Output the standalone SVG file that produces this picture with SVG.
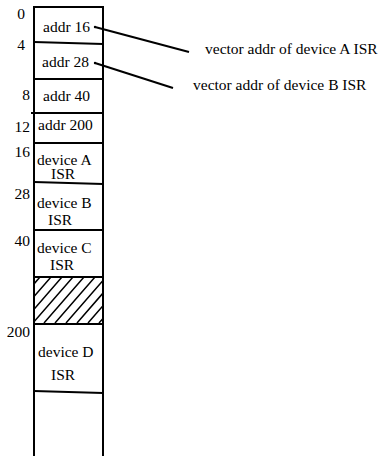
<svg xmlns="http://www.w3.org/2000/svg" width="385" height="456" viewBox="0 0 385 456">
<style>
text{font-family:"Liberation Serif","DejaVu Serif","Noto Serif",serif;font-size:15.5px;fill:#000}
.ln{stroke:#000;stroke-width:2;fill:none}
.h{stroke:#000;stroke-width:1.5;fill:none}
.end{text-anchor:end}
</style>
<defs>
<clipPath id="hc"><rect x="35" y="278" width="67" height="45"/></clipPath>
</defs>
<rect width="385" height="456" fill="#fff"/>
<g id="column">
<path class="ln" d="M34,456 V7 H103 V456"/>
</g>
<g id="slot0"><text class="end" x="25" y="19">0</text><text x="43" y="32">addr 16</text><path class="ln" d="M34,42 L103,44"/></g>
<g id="slot4"><text class="end" x="25" y="50">4</text><text x="42" y="67">addr 28</text><path class="ln" d="M34,79 H103"/></g>
<g id="slot8"><text class="end" x="30" y="100">8</text><text x="43" y="101">addr 40</text><path class="ln" d="M31,113 H103"/></g>
<g id="slot12"><text class="end" x="30" y="132">12</text><text x="38" y="130">addr 200</text><path class="ln" d="M34,143 H103"/></g>
<g id="isrA"><text class="end" x="30" y="157">16</text><text x="37" y="165">device A</text><text x="51" y="179">ISR</text><path class="ln" d="M34,182 L103,184"/></g>
<g id="isrB"><text class="end" x="30" y="199">28</text><text x="37" y="208">device B</text><text x="48" y="225">ISR</text><path class="ln" d="M34,230 H103"/></g>
<g id="isrC"><text class="end" x="30" y="246">40</text><text x="37" y="253">device C</text><text x="50" y="270">ISR</text><path class="ln" d="M34,277 H103"/></g>
<g id="unused">
<g clip-path="url(#hc)">
<path class="h" d="M0,323 L40,277 M11,323 L51,277 M22,323 L62,277 M33,323 L73,277 M44,323 L84,277 M55,323 L95,277 M66,323 L106,277 M77,323 L117,277 M88,323 L128,277 M99,323 L139,277"/>
</g>
<path class="ln" d="M34,324 H103"/>
</g>
<g id="isrD"><text class="end" x="30" y="337">200</text><text x="38" y="357">device D</text><text x="51" y="380">ISR</text><path class="ln" d="M34,391 L103,393"/></g>
<g id="labels"><text x="205" y="54">vector addr of device A ISR</text><text x="193" y="90">vector addr of device B ISR</text></g>
<g id="connectors">
<circle cx="95" cy="27" r="1.2"/>
<path class="ln" d="M95,27 L189,52"/>
<circle cx="95" cy="63" r="1.2"/>
<path class="ln" d="M95,63 L173,88"/>
</g>
</svg>
